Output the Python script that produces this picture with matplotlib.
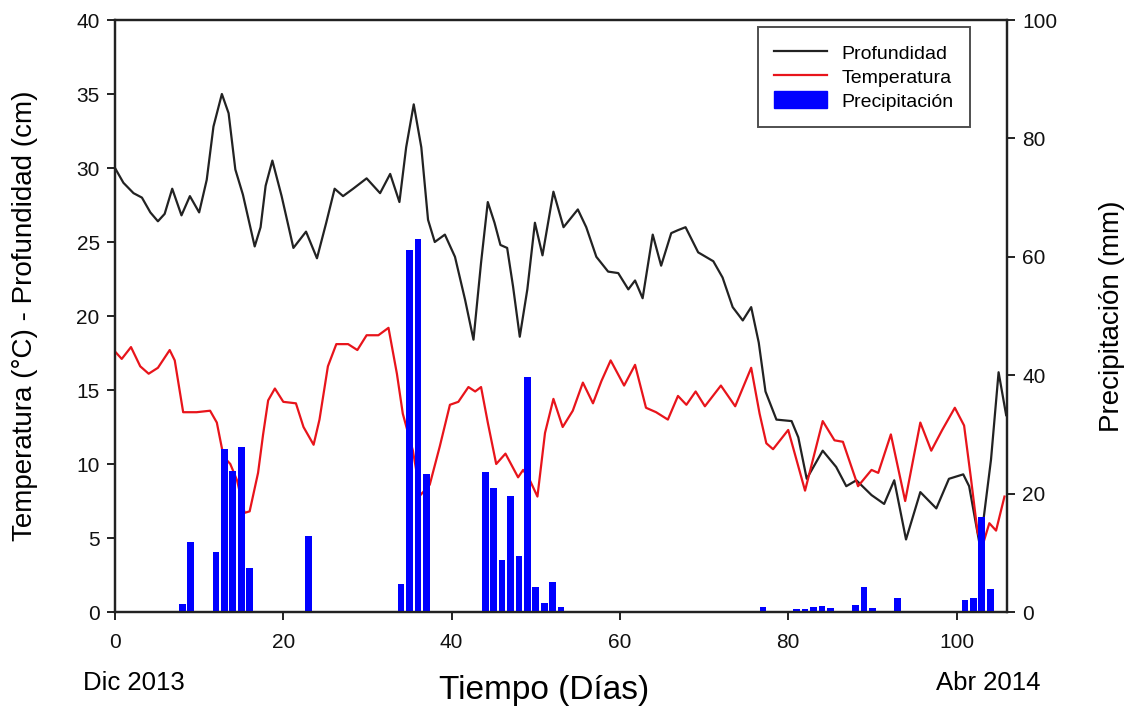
import matplotlib
matplotlib.use("Agg")
import matplotlib.pyplot as plt
from matplotlib.patches import Patch
from matplotlib.lines import Line2D

plt.rcParams['font.family'] = ['Liberation Sans', 'DejaVu Sans']

# Profundidad (cm) - black line
prof_dias = [0, 1.0, 2.2, 3.2, 4.2, 5.1, 5.9, 6.8, 7.9, 8.9, 10.0, 10.9, 11.7, 12.7, 13.5, 14.3,
             15.2, 16.6, 17.3, 17.9, 18.7, 19.8, 21.2, 22.7, 24.0, 25.1, 26.1, 27.1, 28.3, 29.9,
             31.5, 32.7, 33.8, 34.6, 35.5, 36.4, 37.2, 38.0, 39.2, 40.4, 41.6, 42.6, 43.5, 44.3,
             45.1, 45.8, 46.6, 47.3, 48.1, 49.0, 49.9, 50.8, 52.1, 53.3, 55.0, 56.0, 57.2, 58.6,
             59.8, 61.0, 61.8, 62.7, 63.9, 64.9, 66.1, 66.9, 67.8, 69.3, 71.1, 72.2, 73.4, 74.6,
             75.6, 76.5, 77.3, 78.6, 80.4, 81.2, 82.2, 84.1, 85.7, 86.9, 88.1, 89.9, 91.4, 92.6,
             94.0, 95.7, 97.6, 99.1, 100.8, 101.5, 102.8, 104.1, 105.0, 105.9]
profundidad = [30.0, 29.0, 28.3, 28.0, 27.0, 26.4, 26.9, 28.6, 26.8, 28.1, 27.0, 29.2, 32.8, 35.0,
               33.7, 29.9, 28.2, 24.7, 26.0, 28.8, 30.5, 28.1, 24.6, 25.7, 23.9, 26.3, 28.6, 28.1,
               28.6, 29.3, 28.3, 29.6, 27.7, 31.4, 34.3, 31.4, 26.5, 25.0, 25.5, 24.0, 21.1, 18.4,
               23.6, 27.7, 26.3, 24.8, 24.6, 22.0, 18.6, 21.8, 26.3, 24.1, 28.4, 26.0, 27.2, 26.0,
               24.0, 23.0, 22.9, 21.8, 22.4, 21.2, 25.5, 23.4, 25.6, 25.8, 26.0, 24.3, 23.7, 22.6,
               20.6, 19.7, 20.6, 18.2, 14.9, 13.0, 12.9, 11.8, 9.0, 10.9, 9.8, 8.5, 8.9, 7.9, 7.3,
               8.9, 4.9, 8.1, 7.0, 9.0, 9.3, 8.5, 4.4, 10.3, 16.2, 13.3]

# Temperatura (°C) - red line
temp_dias = [0, 0.8, 1.9, 3.0, 4.0, 5.1, 6.5, 7.1, 8.1, 9.7, 11.3, 12.1, 12.9, 13.7, 14.5, 15.4,
             16.0, 17.0, 17.6, 18.2, 19.0, 20.0, 21.5, 22.4, 23.6, 24.3, 25.3, 26.3, 27.7, 28.8,
             29.9, 31.3, 32.5, 33.5, 34.2, 35.4, 36.3, 37.4, 38.6, 39.8, 40.8, 42.0, 42.8, 43.5,
             44.3, 45.3, 46.4, 47.9, 48.5, 49.3, 50.2, 51.1, 52.1, 53.2, 54.4, 55.6, 56.8, 57.8,
             58.9, 60.5, 61.8, 63.1, 64.3, 65.7, 66.9, 67.9, 69.0, 70.1, 72.0, 73.7, 75.6, 76.6,
             77.4, 78.2, 80.0, 82.0, 84.1, 85.5, 86.5, 88.3, 89.9, 90.7, 92.2, 93.9, 95.7, 97.0,
             98.3, 99.8, 100.9, 101.7, 102.5, 103.1, 103.9, 104.7, 105.7]
temperatura = [17.6, 17.1, 17.9, 16.6, 16.1, 16.5, 17.7, 17.0, 13.5, 13.5, 13.6, 12.8, 10.5, 10.0,
               8.9, 6.7, 6.8, 9.4, 12.0, 14.3, 15.1, 14.2, 14.1, 12.5, 11.3, 13.0, 16.6, 18.1,
               18.1, 17.7, 18.7, 18.7, 19.2, 16.1, 13.4, 10.9, 7.9, 8.6, 11.2, 14.0, 14.2, 15.2,
               14.9, 15.2, 12.8, 10.0, 10.7, 9.1, 9.6, 8.9, 7.8, 12.1, 14.4, 12.5, 13.6, 15.5,
               14.1, 15.6, 17.0, 15.3, 16.7, 13.8, 13.5, 13.0, 14.6, 14.0, 14.9, 13.9, 15.3, 13.9,
               16.5, 13.4, 11.4, 11.0, 12.3, 8.2, 12.9, 11.6, 11.5, 8.5, 9.6, 9.4, 12.0, 7.5, 12.8,
               10.9, 12.3, 13.8, 12.6, 9.1, 5.4, 4.5, 6.0, 5.5, 7.8]

# Precipitación (mm) - blue bars
prec_dias = [8, 9, 12, 13, 14, 15, 16, 23, 34, 35, 36, 37, 44, 45, 46, 47, 48, 49, 50, 51, 52, 53,
             77, 81, 82, 83, 84, 85, 88, 89, 90, 93, 101, 102, 103, 104]
precipitacion = [1.3, 11.9, 10.2, 27.5, 23.8, 27.8, 7.4, 12.8, 4.7, 61.2, 63.0, 23.3, 23.7, 20.9,
                 8.7, 19.6, 9.5, 39.7, 4.3, 1.6, 5.1, 0.9, 0.9, 0.5, 0.5, 0.8, 1.0, 0.7, 1.1, 4.3,
                 0.7, 2.4, 2.0, 2.4, 16.1, 3.9]

x_ticks = [0, 20, 40, 60, 80, 100]
y_ticks = [0, 5, 10, 15, 20, 25, 30, 35, 40]
y2_ticks = [0, 20, 40, 60, 80, 100]

W, H = 1131, 713
fig = plt.figure(figsize=(W / 100, H / 100), dpi=100)
L, R, T, B = 115, 1007, 20, 612
ax = fig.add_axes([L / W, 1 - B / H, (R - L) / W, (B - T) / H])
ax2 = ax.twinx()

ax.plot(prof_dias, profundidad, color='#222222', lw=1.6, zorder=3)
ax.plot(temp_dias, temperatura, color='#e8141b', lw=1.6, zorder=3)
ax2.bar(prec_dias, precipitacion, width=0.8, color='#0000ff', zorder=2)

ax.set_xlim(0, 106)
ax.set_ylim(0, 40)
ax2.set_ylim(0, 100)
ax.set_xticks(x_ticks)
ax.set_yticks(y_ticks)
ax2.set_yticks(y2_ticks)

for a in (ax, ax2):
    for s in a.spines.values():
        s.set_linewidth(1.6)
        s.set_color('#222222')
    a.tick_params(direction='out', length=6, width=1.4, labelsize=15, colors='#222222',
                  labelcolor='#111111', pad=5)
ax.tick_params(axis='x', pad=9)

ax.set_ylabel('Temperatura (°C) - Profundidad (cm)', fontsize=20)
ax.yaxis.set_label_coords((38 - L) / (R - L), 0.5)
ax2.set_ylabel('Precipitación (mm)', fontsize=20)
ax2.yaxis.set_label_coords((1099 - L) / (R - L), 0.5)

fig.text(134 / W, 1 - 683 / H, 'Dic 2013', fontsize=18.5, ha='center', va='center')
fig.text(988 / W, 1 - 683 / H, 'Abr 2014', fontsize=18.5, ha='center', va='center')
fig.text(544 / W, 1 - 691 / H, 'Tiempo (Días)', fontsize=24, ha='center', va='center')

handles = [Line2D([], [], color='#222222', lw=1.6),
           Line2D([], [], color='#e8141b', lw=1.6),
           Patch(facecolor='#0000ff', edgecolor='#0000ff')]
labels = ['Profundidad', 'Temperatura', 'Precipitación']
leg = ax2.legend(handles, labels, loc='upper right', bbox_to_anchor=(0.9585, 0.988),
                 fontsize=14, frameon=True, fancybox=False, edgecolor='#222222',
                 handlelength=2.7, handleheight=0.95, borderpad=0.85, labelspacing=0.25,
                 handletextpad=0.75, borderaxespad=0)
leg.get_frame().set_linewidth(1.4)
leg.set_zorder(10)

fig.savefig('out.png', dpi=100)
